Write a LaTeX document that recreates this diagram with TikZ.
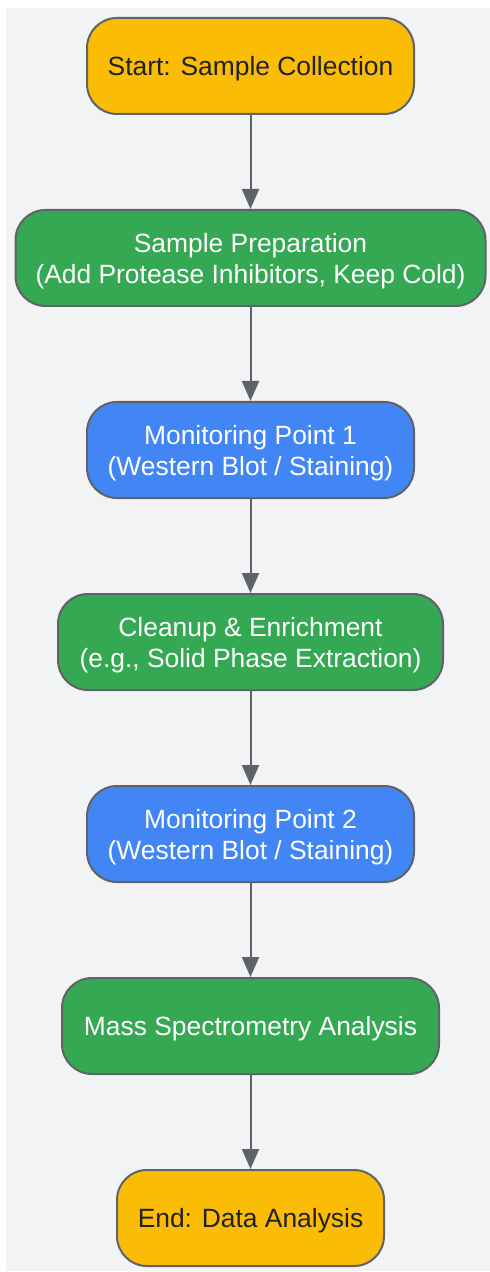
\documentclass[tikz,border=0pt]{standalone}
\usepackage{fontspec}
\setmainfont{Liberation Sans}
\usepackage{tikz}
\usetikzlibrary{arrows.meta, positioning}

\definecolor{bgGray}{HTML}{F1F3F4}
\definecolor{lineGray}{HTML}{5F6368}
\definecolor{gYellow}{HTML}{FBBC05}
\definecolor{gGreen}{HTML}{34A853}
\definecolor{gBlue}{HTML}{4285F4}
\definecolor{darkText}{HTML}{202124}

\tikzset{
    box/.style={draw=lineGray, line width=1pt, rounded corners=15pt, minimum height=48pt,
        align=center, font=\fontsize{13.2}{15.5}\selectfont, inner sep=0pt, text depth=0pt},
    terminal/.style={box, fill=gYellow, text=darkText},
    process/.style={box, fill=gGreen, text=white},
    check/.style={box, fill=gBlue, text=white},
    flow/.style={draw=lineGray, line width=1pt, -{Triangle[length=10pt, width=8.5pt]}}
}

\begin{document}
\begin{tikzpicture}[x=0.5pt, y=-0.5pt]
        \useasboundingbox (0,0) rectangle (490,1272);
        \fill[bgGray] (6,8) rectangle (490,1271);

        \node[terminal, minimum width=163.5pt] (start) at (250.5,66) {Start: Sample Collection};
        \node[process, minimum width=235pt] (prep) at (250.5,258) {Sample Preparation\\(Add Protease Inhibitors, Keep Cold)};
        \node[check, minimum width=163.5pt] (mon1) at (250.5,450) {Monitoring Point 1\\(Western Blot / Staining)};
        \node[process, minimum width=192.5pt] (clean) at (250.5,642) {Cleanup \& Enrichment\\(e.g., Solid Phase Extraction)};
        \node[check, minimum width=163.5pt] (mon2) at (250.5,834) {Monitoring Point 2\\(Western Blot / Staining)};
        \node[process, minimum width=188.5pt] (ms) at (250.5,1026) {Mass Spectrometry Analysis};
        \node[terminal, minimum width=133.5pt] (finish) at (250.5,1218) {End: Data Analysis};

        \foreach \a/\b in {start/prep, prep/mon1, mon1/clean, clean/mon2, mon2/ms, ms/finish} {
            \draw[flow] (\a) -- (\b);
        }
    \end{tikzpicture}
\end{document}
